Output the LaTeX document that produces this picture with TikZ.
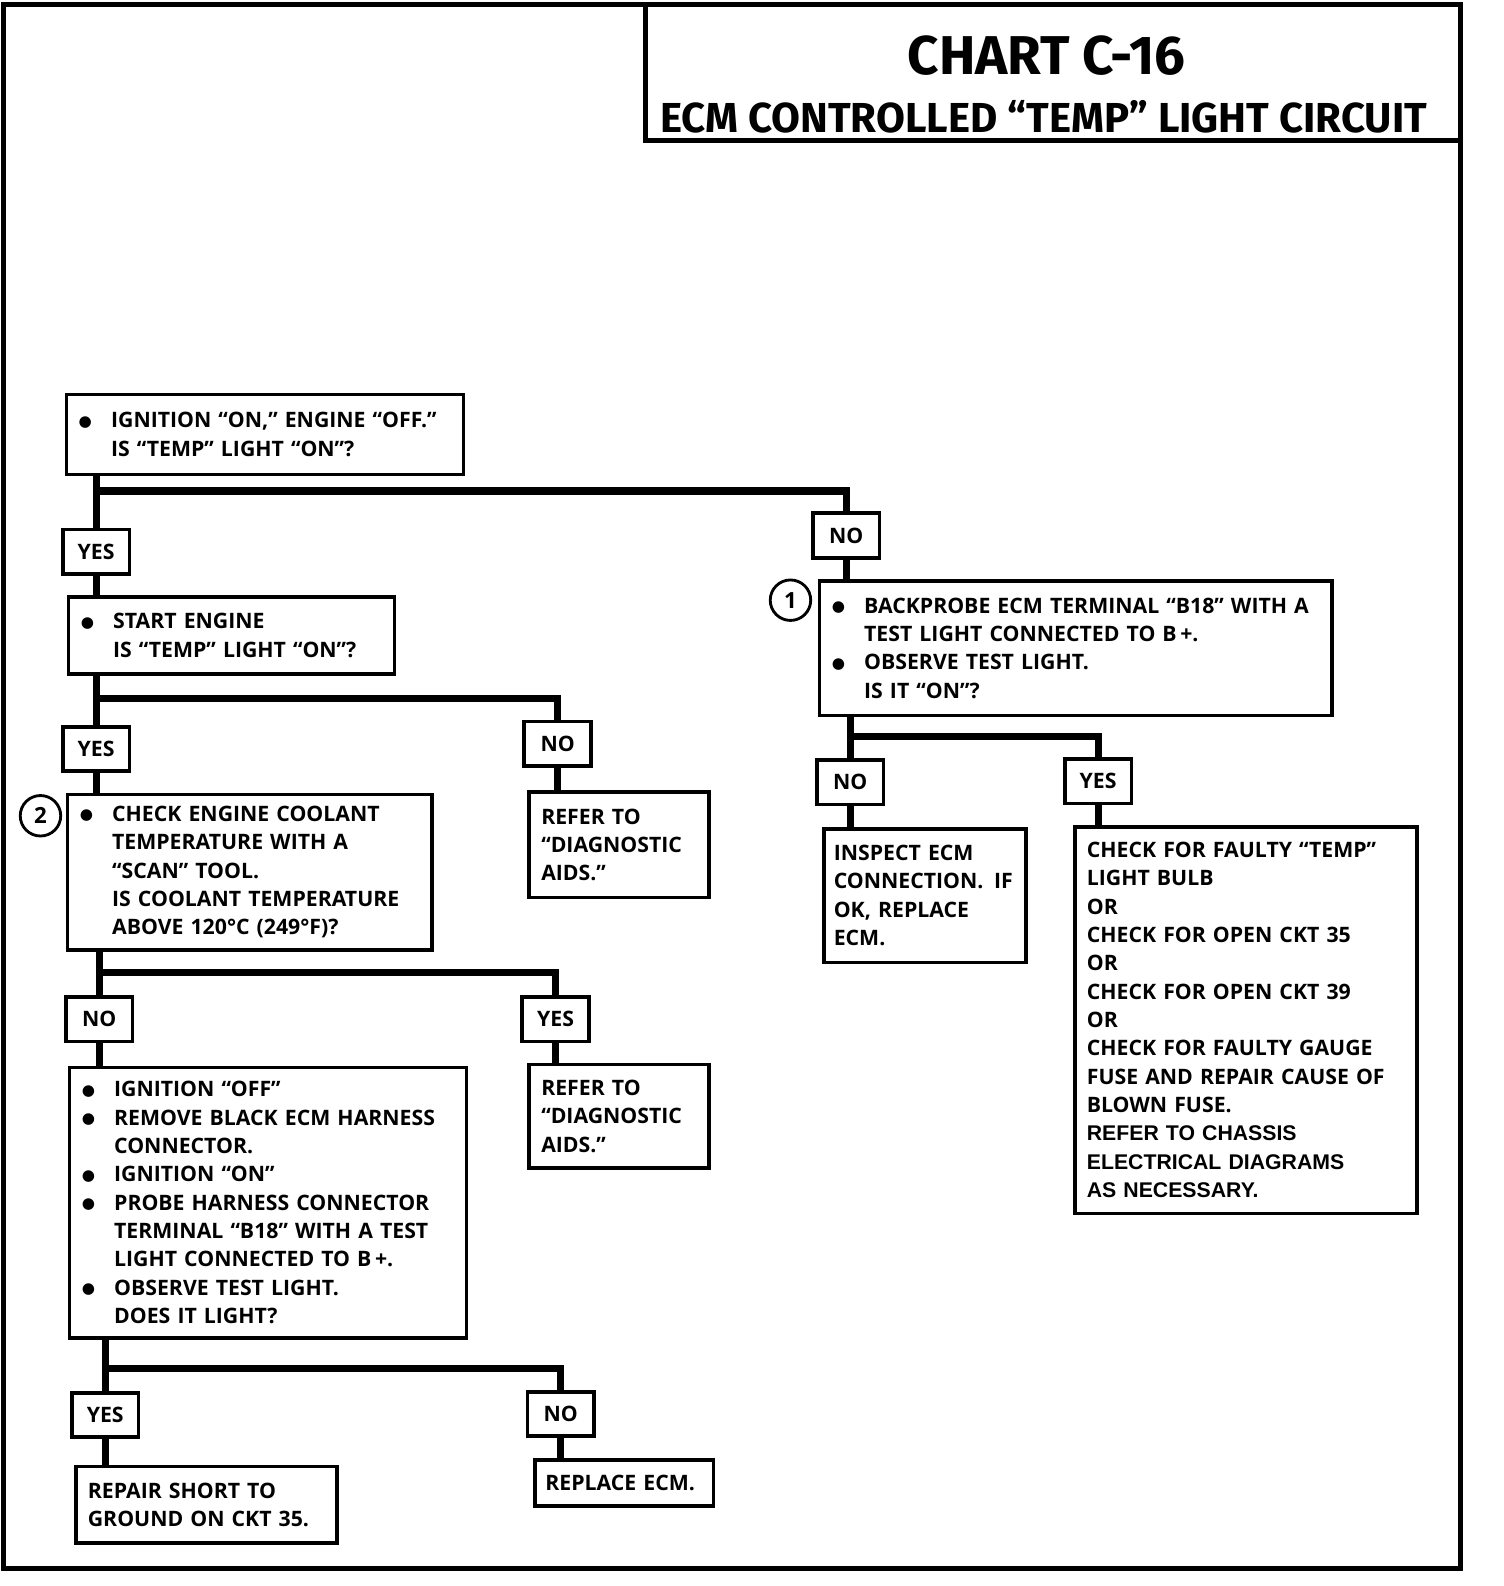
\documentclass[tikz,border=0pt]{standalone}
\usepackage{fontspec}
\setmainfont{Open Sans}
\newfontfamily\titlefont{Fira Sans}
\newfontfamily\arialfont{Liberation Sans}
\newfontfamily\dotfont{DejaVu Sans}
\usetikzlibrary{positioning}

\newcommand{\bul}{\makebox[13pt][l]{\hspace*{-3pt}\raisebox{0.8pt}{\dotfont\fontsize{7.5}{9}\selectfont ●}}}
\newcommand{\ind}{\hspace*{13pt}}
\newcommand{\boxfont}{\fontsize{10.5}{14}\selectfont\bfseries}

\tikzset{
  stepbox/.style={draw, line width=1.8pt, anchor=north west, align=left,
    inner xsep=9pt, inner ysep=3pt, font=\boxfont},
  answer/.style={draw, line width=1.8pt, minimum width=33pt, minimum height=22pt,
    inner sep=0pt, font=\boxfont},
  link/.style={line width=3.6pt},
  marker/.style={draw, circle, line width=1.4pt, minimum size=20pt, inner sep=0pt,
    font=\fontsize{11}{13}\selectfont\bfseries},
  frame/.style={line width=2.5pt}
}

\begin{document}
\begin{tikzpicture}[x=0.5pt,y=-0.5pt]
\useasboundingbox (0,0) rectangle (1485,1567);
% frame and title
\draw[frame] (3,4) rectangle (1443,1550);
\draw[frame] (638,4) rectangle (1443,139);
\node[font=\titlefont\fontsize{27}{32}\selectfont\bfseries] (title) at (1034,55) {CHART C-16};
\node[font=\titlefont\fontsize{20.7}{24}\selectfont\bfseries] (subtitle) at (1031,115) {ECM CONTROLLED “TEMP” LIGHT CIRCUIT};

% decision boxes
\node[stepbox, text width=178pt, minimum height=39.5pt] (ign) at (64,388)
  {\bul IGNITION “ON,” ENGINE “OFF.”\\ \ind IS “TEMP” LIGHT “ON”?};
\node[stepbox, text width=143pt, minimum height=38pt] (start) at (66,588)
  {\bul START ENGINE\\ \ind IS “TEMP” LIGHT “ON”?};
\node[stepbox, text width=235pt, minimum height=66.5pt] (probe) at (808,572)
  {\bul BACKPROBE ECM TERMINAL “B18” WITH A\\ \ind TEST LIGHT CONNECTED TO B\,+.\\
   \bul OBSERVE TEST LIGHT.\\ \ind IS IT “ON”?};
\node[stepbox, text width=162pt, minimum height=77pt] (coolant) at (65,783)
  {\bul CHECK ENGINE COOLANT\\ \ind TEMPERATURE WITH A\\ \ind “SCAN” TOOL.\\
   \ind IS COOLANT TEMPERATURE\\ \ind ABOVE 120°C (249°F)?};
\node[stepbox, text width=178pt, minimum height=133.5pt] (harness) at (67,1053)
  {\bul IGNITION “OFF”\\ \bul REMOVE BLACK ECM HARNESS\\ \ind CONNECTOR.\\
   \bul IGNITION “ON”\\ \bul PROBE HARNESS CONNECTOR\\ \ind TERMINAL “B18” WITH A TEST\\
   \ind LIGHT CONNECTED TO B\,+.\\ \bul OBSERVE TEST LIGHT.\\ \ind DOES IT LIGHT?};

% result boxes
\node[stepbox, inner xsep=6pt, text width=77pt, minimum height=52pt] (aids1) at (521,781)
  {REFER TO\\ “DIAGNOSTIC\\ AIDS.”};
\node[stepbox, inner xsep=6pt, text width=77pt, minimum height=51pt] (aids2) at (521,1050)
  {REFER TO\\ “DIAGNOSTIC\\ AIDS.”};
\node[stepbox, inner xsep=5pt, text width=90pt, minimum height=66pt] (inspect) at (812,817)
  {INSPECT ECM\\ CONNECTION.\enspace IF\\ OK, REPLACE\\ ECM.};
\node[stepbox, inner xsep=6pt, text width=157pt, minimum height=191pt] (bulb) at (1060,815)
  {CHECK FOR FAULTY “TEMP”\\ LIGHT BULB\\ OR\\ CHECK FOR OPEN CKT 35\\ OR\\
   CHECK FOR OPEN CKT 39\\ OR\\ CHECK FOR FAULTY GAUGE\\ FUSE AND REPAIR CAUSE OF\\
   BLOWN FUSE.\\ {\arialfont REFER TO CHASSIS}\\ {\arialfont ELECTRICAL DIAGRAMS}\\
   {\arialfont AS NECESSARY.}};
\node[stepbox, inner xsep=6pt, text width=117pt, minimum height=38pt] (short) at (73,1447)
  {REPAIR SHORT TO\\ GROUND ON CKT 35.};
\node[stepbox, inner xsep=5pt, text width=78pt, minimum height=22.5pt] (ecm) at (527,1441)
  {REPLACE ECM.};

% yes / no boxes
\node[answer] (yes1) at (95,545) {YES};
\node[answer] (no1) at (836,529) {NO};
\node[answer] (yes2) at (95,740) {YES};
\node[answer] (no2) at (551,735) {NO};
\node[answer] (no3) at (840,773) {NO};
\node[answer] (yes3) at (1085,772) {YES};
\node[answer] (no4) at (98,1007) {NO};
\node[answer] (yes4) at (549,1007) {YES};
\node[answer] (yes5) at (104,1398) {YES};
\node[answer] (no5) at (554,1397) {NO};

% step numbers
\node[marker] (one) at (781,593) {1};
\node[marker] (two) at (40,806) {2};

% junction levels
\coordinate (ja) at (0,485);
\coordinate (jb) at (0,690);
\coordinate (jc) at (0,728);
\coordinate (jd) at (0,961);
\coordinate (je) at (0,1352);

% connectors
\draw[link] (ign.south -| yes1) -- (yes1.north);
\draw[link] (yes1 |- ja) -| (no1.north);
\draw[link] (yes1.south) -- (start.north -| yes1);
\draw[link] (no1.south) -- (probe.north -| no1);
\draw[link] (start.south -| yes2) -- (yes2.north);
\draw[link] (yes2 |- jb) -| (no2.north);
\draw[link] (yes2.south) -- (coolant.north -| yes2);
\draw[link] (no2.south) -- (aids1.north -| no2);
\draw[link] (probe.south -| no3) -- (no3.north);
\draw[link] (no3 |- jc) -| (yes3.north);
\draw[link] (no3.south) -- (inspect.north -| no3);
\draw[link] (yes3.south) -- (bulb.north -| yes3);
\draw[link] (coolant.south -| no4) -- (no4.north);
\draw[link] (no4 |- jd) -| (yes4.north);
\draw[link] (no4.south) -- (harness.north -| no4);
\draw[link] (yes4.south) -- (aids2.north -| yes4);
\draw[link] (harness.south -| yes5) -- (yes5.north);
\draw[link] (yes5 |- je) -| (no5.north);
\draw[link] (yes5.south) -- (short.north -| yes5);
\draw[link] (no5.south) -- (ecm.north -| no5);
\end{tikzpicture}
\end{document}
